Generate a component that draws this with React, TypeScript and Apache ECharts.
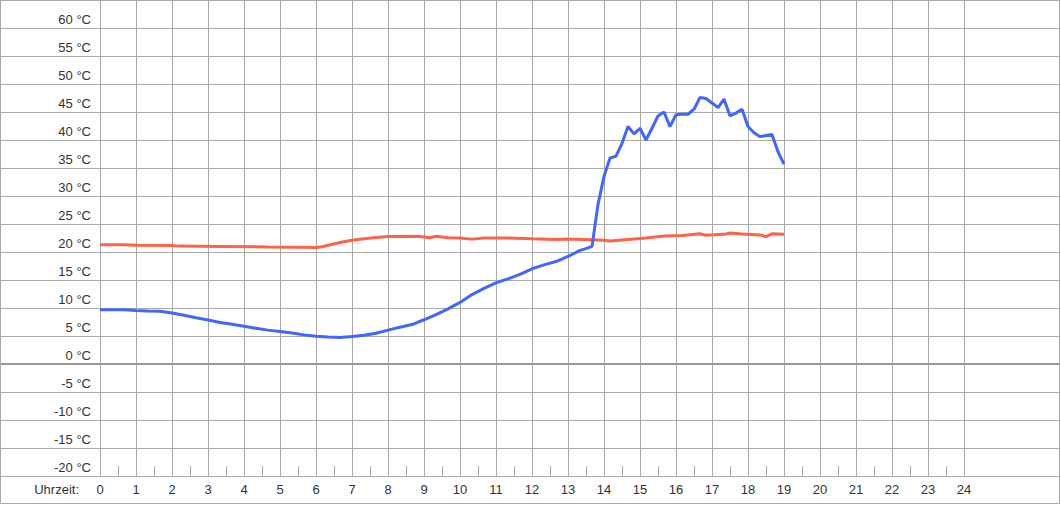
import React, { useEffect, useRef } from "react";
import * as echarts from "echarts";

// Temperature readings (time "H:MM", °C)
const blueTimes = [
  "0:00", "0:40", "1:00", "1:20", "1:40", "2:00", "2:20", "2:40", "3:00", "3:20",
  "3:40", "4:00", "4:20", "4:40", "5:00", "5:20", "5:40", "6:00", "6:20", "6:40",
  "7:00", "7:20", "7:40", "8:00", "8:20", "8:40", "9:00", "9:20", "9:40", "10:00",
  "10:20", "10:40", "11:00", "11:20", "11:40", "12:00", "12:20", "12:40", "13:00", "13:20",
  "13:30", "13:40", "13:50", "14:00", "14:10", "14:20", "14:30", "14:40", "14:50", "15:00",
  "15:10", "15:20", "15:30", "15:40", "15:50", "16:00", "16:10", "16:20", "16:30", "16:40",
  "16:50", "17:00", "17:10", "17:20", "17:30", "17:40", "17:50", "18:00", "18:10", "18:20",
  "18:30", "18:40", "18:50", "19:00",
];
const blueValues = [
  9.7, 9.7, 9.55, 9.45, 9.4, 9.1, 8.7, 8.25, 7.85, 7.4,
  7.1, 6.75, 6.4, 6.05, 5.8, 5.55, 5.2, 4.95, 4.8, 4.75,
  4.9, 5.15, 5.5, 6.05, 6.55, 7.05, 7.9, 8.8, 9.85, 11.0,
  12.4, 13.5, 14.5, 15.2, 16.0, 17.0, 17.7, 18.3, 19.2, 20.3,
  20.6, 21.0, 28.5, 33.5, 36.8, 37.1, 39.4, 42.4, 41.1, 42.1,
  40.0, 42.1, 44.3, 45.0, 42.4, 44.5, 44.6, 44.6, 45.5, 47.6,
  47.4, 46.6, 45.8, 47.3, 44.3, 44.8, 45.5, 42.4, 41.3, 40.6,
  40.8, 41.0, 37.9, 35.7,
];

const redTimes = [
  "0:00", "0:40", "1:00", "2:00", "2:10", "3:20", "4:40", "5:40", "6:00", "6:10",
  "6:40", "7:00", "7:20", "7:40", "8:00", "8:20", "8:50", "9:10", "9:20", "9:40",
  "10:00", "10:20", "10:40", "11:20", "12:00", "12:40", "13:00", "13:40", "14:00", "14:10",
  "14:40", "15:10", "15:40", "16:10", "16:40", "16:50", "17:20", "17:30", "17:50", "18:20",
  "18:30", "18:40", "19:00",
];
const redValues = [
  21.3, 21.3, 21.2, 21.15, 21.05, 21.0, 20.9, 20.85, 20.8, 20.95,
  21.7, 22.1, 22.35, 22.6, 22.75, 22.75, 22.8, 22.55, 22.8, 22.55,
  22.5, 22.3, 22.5, 22.5, 22.35, 22.25, 22.3, 22.2, 22.1, 21.95,
  22.25, 22.5, 22.85, 22.95, 23.25, 23.0, 23.15, 23.4, 23.2, 23.05,
  22.75, 23.25, 23.15,
];

const toHours = (t: string) => {
  const [h, m] = t.split(":").map(Number);
  return h + m / 60;
};

const FONT = 'Arial, "Liberation Sans", sans-serif';
const GRID_COLOR = "#aaaaaa";
const TEXT_COLOR = "#333333";

export default function App() {
  const ref = useRef<HTMLDivElement>(null);

  useEffect(() => {
    const chart = echarts.init(ref.current!, null, { renderer: "svg" });
    chart.setOption({
      animation: false,
      grid: [
        { left: 0, top: 0, width: 1060, height: 476 },
        { left: 100, top: 0, width: 864, height: 476 },
      ],
      xAxis: [
        {
          gridIndex: 0,
          type: "value",
          min: 0,
          max: 1,
          axisLine: { show: true, onZero: true, lineStyle: { color: "#999999", width: 2 } },
          axisTick: { show: false },
          axisLabel: { show: false },
          splitLine: { show: false },
        },
        {
          gridIndex: 1,
          type: "value",
          min: 0,
          max: 24,
          interval: 1,
          name: "Uhrzeit:",
          nameLocation: "start",
          nameGap: 21,
          nameTextStyle: {
            color: TEXT_COLOR,
            fontSize: 13,
            fontFamily: FONT,
            verticalAlign: "top",
            padding: [7, 0, 0, 0],
          },
          axisLine: { show: false, onZero: false },
          axisTick: { show: false, inside: true },
          minorTick: { show: true, splitNumber: 2, length: 10, lineStyle: { color: GRID_COLOR, width: 1 } },
          axisLabel: { margin: 7, color: TEXT_COLOR, fontSize: 13, fontFamily: FONT },
          splitLine: { show: true, lineStyle: { color: GRID_COLOR, width: 1 } },
        },
      ],
      yAxis: [
        {
          gridIndex: 0,
          type: "value",
          min: -20,
          max: 65,
          interval: 5,
          axisLine: { show: false },
          axisTick: { show: false },
          axisLabel: { show: false },
          splitLine: { show: true, lineStyle: { color: GRID_COLOR, width: 1 } },
        },
        {
          gridIndex: 1,
          type: "value",
          min: -20,
          max: 65,
          interval: 5,
          axisLine: { show: false },
          axisTick: { show: false },
          splitLine: { show: false },
          axisLabel: {
            margin: 9,
            formatter: (v: number) => (v >= 65 ? "" : `${v} °C`),
            verticalAlign: "bottom",
            padding: [0, 0, 2, 0],
            color: TEXT_COLOR,
            fontSize: 13,
            fontFamily: FONT,
          },
        },
      ],
      graphic: [
        {
          type: "rect",
          silent: true,
          z: 100,
          shape: { x: 0.5, y: 0.5, width: 1059, height: 503 },
          style: { fill: "none", stroke: GRID_COLOR, lineWidth: 1 },
        },
      ],
      series: [
        {
          type: "line",
          name: "Innen",
          xAxisIndex: 1,
          yAxisIndex: 1,
          symbol: "none",
          lineStyle: { color: "#ff6347", width: 3 },
          itemStyle: { color: "#ff6347" },
          data: redTimes.map((t, i) => [toHours(t), redValues[i]]),
        },
        {
          type: "line",
          name: "Außen",
          xAxisIndex: 1,
          yAxisIndex: 1,
          symbol: "none",
          lineStyle: { color: "#4466ff", width: 3 },
          itemStyle: { color: "#4466ff" },
          data: blueTimes.map((t, i) => [toHours(t), blueValues[i]]),
        },
      ],
    });
    return () => chart.dispose();
  }, []);

  return (
    <div
      ref={ref}
      style={{ position: "absolute", left: 0, top: 0, width: 1060, height: 506 }}
    />
  );
}
